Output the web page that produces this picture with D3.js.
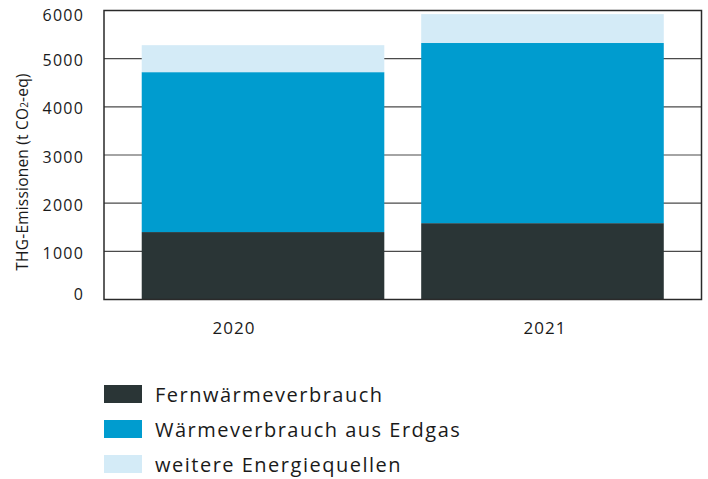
<html>

<head>
	<meta charset="utf-8">
	<script src="https://d3js.org/d3.v7.min.js"></script>
	<style>
		body { margin: 0; background: #fff; }
		text { font-family: "Open Sans", sans-serif; fill: #1a1a1a; }
	</style>
</head>

<body>
	<svg width="708" height="479"></svg>
	<script>
		var years = ["2020", "2021"];
		var fernwaerme = [1400, 1585];
		var erdgas = [3320, 3740];
		var weitere = [560, 600];
		var yTicks = [0, 1000, 2000, 3000, 4000, 5000, 6000];
		var seriesNames = ["Fernwärmeverbrauch", "Wärmeverbrauch aus Erdgas", "weitere Energiequellen"];
		var colors = ["#2a3536", "#009ccf", "#d4ebf7"];

		var data = years.map(function (y, i) {
			return { year: y, a: fernwaerme[i], b: erdgas[i], c: weitere[i] };
		});
		var keys = ["a", "b", "c"];
		var series = d3.stack().keys(keys)(data);

		var svg = d3.select("svg"),
			margin = { top: 10.5, right: 6.5, bottom: 179.5, left: 104 },
			width = 708 - margin.left - margin.right,
			height = 479 - margin.top - margin.bottom;

		var x = d3.scaleBand()
			.domain(years)
			.range([margin.left, margin.left + width])
			.paddingInner(0.132)
			.paddingOuter(0.135);

		var y = d3.scaleLinear()
			.domain([0, 6000])
			.range([margin.top + height, margin.top]);

		// gridlines
		svg.append("g")
			.selectAll("line")
			.data(yTicks.slice(1, -1))
			.enter().append("line")
			.attr("x1", margin.left)
			.attr("x2", margin.left + width)
			.attr("y1", function (d) { return y(d); })
			.attr("y2", function (d) { return y(d); })
			.attr("stroke", "#4a4a4a")
			.attr("stroke-width", 1.2);

		// bars
		svg.append("g")
			.selectAll("g")
			.data(series)
			.enter().append("g")
			.attr("fill", function (d, i) { return colors[i]; })
			.selectAll("rect")
			.data(function (d) { return d; })
			.enter().append("rect")
			.attr("x", function (d) { return x(d.data.year); })
			.attr("width", x.bandwidth())
			.attr("y", function (d) { return y(d[1]); })
			.attr("height", function (d) { return y(d[0]) - y(d[1]); });

		// frame
		svg.append("rect")
			.attr("x", margin.left)
			.attr("y", margin.top)
			.attr("width", width)
			.attr("height", height)
			.attr("fill", "none")
			.attr("stroke", "#2a2a2a")
			.attr("stroke-width", 1.5);

		// y tick labels
		svg.append("g")
			.selectAll("text")
			.data(yTicks)
			.enter().append("text")
			.attr("x", 84)
			.attr("y", function (d) {
				var off = d === 0 ? -5 : (d === 6000 ? 5 : 2);
				return y(d) + off;
			})
			.attr("dy", "0.35em")
			.attr("text-anchor", "end")
			.attr("font-size", 16)
			.attr("letter-spacing", 1.2)
			.text(function (d) { return d; });

		// x labels
		var xl = d3.scalePoint().domain(years).range([234, 545]);
		svg.append("g")
			.selectAll("text")
			.data(years)
			.enter().append("text")
			.attr("x", function (d) { return xl(d); })
			.attr("y", 334)
			.attr("text-anchor", "middle")
			.attr("font-size", 17)
			.attr("letter-spacing", 1)
			.text(function (d) { return d; });

		// y axis title
		var title = svg.append("text")
			.attr("transform", "translate(28,172) rotate(-90)")
			.attr("text-anchor", "middle")
			.attr("font-size", 15.5)
			.attr("letter-spacing", 0.2);
		title.append("tspan").text("THG-Emissionen (t CO");
		title.append("tspan").attr("font-size", 10).text("2");
		title.append("tspan").text("-eq)");

		// legend
		var legend = svg.append("g")
			.selectAll("g")
			.data(seriesNames)
			.enter().append("g")
			.attr("transform", function (d, i) { return "translate(104," + (385 + i * 35) + ")"; });

		legend.append("rect")
			.attr("width", 38)
			.attr("height", 18)
			.attr("fill", function (d, i) { return colors[i]; });

		legend.append("text")
			.attr("x", 51)
			.attr("y", 17)
			.attr("font-size", 20)
			.attr("letter-spacing", 1.5)
			.text(function (d) { return d; });
	</script>
</body>

</html>
